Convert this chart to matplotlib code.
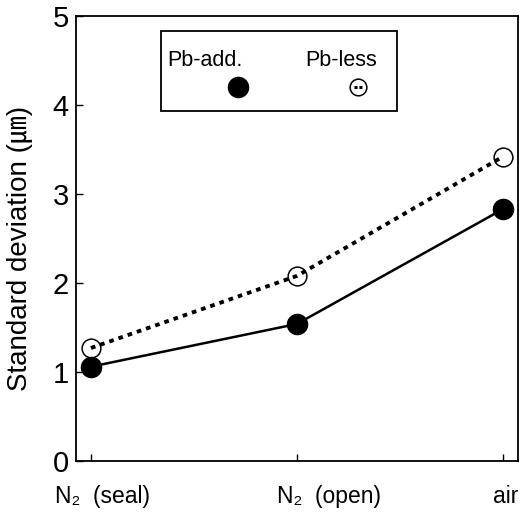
import matplotlib
matplotlib.use("Agg")
import matplotlib.pyplot as plt
from matplotlib.patches import Rectangle
import matplotlib.transforms as mtransforms

conditions = ["N\u2082  (seal)", "N\u2082  (open)", "air"]
pb_add = [1.06, 1.54, 2.83]
pb_less = [1.27, 2.08, 3.42]
y_ticks = [0, 1, 2, 3, 4, 5]

FAM = ["Liberation Sans", "Noto Sans CJK JP", "DejaVu Sans"]
plt.rcParams['font.family'] = FAM

fig = plt.figure(figsize=(5.2, 5.12), dpi=100)
ax = fig.add_axes([0.146, 0.0996, 0.85, 0.869])

x = list(range(len(conditions)))
ax.plot(x, pb_less, linestyle=(0, (1.2, 1.3)), color='black', lw=2.8,
        marker='o', ms=13.5, mfc='none', mec='black', mew=1.1, zorder=3)
ax.plot(x, pb_add, linestyle='-', color='black', lw=1.8,
        marker='o', ms=14.5, mfc='black', mec='black', zorder=4)

ax.set_xlim(-0.073, 2.073)
ax.set_ylim(0, 5)
ax.set_yticks(y_ticks)
ax.set_yticklabels([str(v) for v in y_ticks], fontsize=21)
ax.set_xticks(x)
ax.set_xticklabels([])
ax.tick_params(axis='both', direction='in', length=5, width=1, pad=5)
for s in ax.spines.values():
    s.set_linewidth(1.3)

def ax_x(px):
    return (px - 76) / (518 - 76)
def ax_y(py):
    return (461 - py) / (461 - 16)

ax.text(ax_x(20), ax_y(248), "Standard deviation (\u339b)", transform=ax.transAxes,
        rotation=90, ha='center', va='center', fontsize=20, clip_on=False)

trans = mtransforms.blended_transform_factory(ax.transData, ax.transAxes)
label_x = [-0.175, 0.903, 1.950]
for lx, lab in zip(label_x, conditions):
    ax.text(lx, ax_y(497), lab, transform=trans, ha='left', va='center',
            fontsize=16.5, clip_on=False)

# Legend box
axT = ax.transAxes
rect = Rectangle((ax_x(161), ax_y(111)), ax_x(397) - ax_x(161), ax_y(31) - ax_y(111),
                 transform=axT, fill=False, lw=1.3, ec='black', zorder=5)
ax.add_patch(rect)
ax.text(ax_x(205), ax_y(60), "Pb-add.", transform=axT, ha='center', va='center', fontsize=15.5, zorder=6)
ax.text(ax_x(341), ax_y(60), "Pb-less", transform=axT, ha='center', va='center', fontsize=15.5, zorder=6)
ax.plot([ax_x(238)], [ax_y(87)], transform=axT, marker='o', ms=14.5, mfc='black', mec='black', zorder=6, clip_on=False)
ax.plot([ax_x(358)], [ax_y(87)], transform=axT, marker='o', ms=12, mfc='none', mec='black', mew=1.1, zorder=6, clip_on=False)
ax.plot([ax_x(354), ax_x(362)], [ax_y(87), ax_y(87)], transform=axT, color='black', lw=2.2,
        linestyle=(0, (1, 0.6)), zorder=6, clip_on=False)

fig.savefig("out.png", dpi=100)
